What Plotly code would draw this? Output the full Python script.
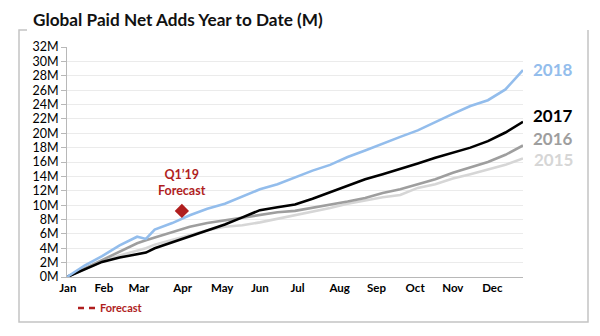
import plotly.graph_objects as go

# Week of year for each sampled point
weeks = [0, 2, 4, 6, 8, 9, 10, 12, 14, 16, 18, 20, 22, 24, 26, 28, 30, 32,
         34, 36, 38, 40, 42, 44, 46, 48, 50, 52]

# Cumulative paid net adds (millions)
adds_2018 = [0, 1.6, 2.9, 4.4, 5.6, 5.3, 6.6, 7.5, 8.6, 9.5, 10.2, 11.2, 12.2, 12.9,
             13.9, 14.8, 15.6, 16.7, 17.6, 18.6, 19.5, 20.4, 21.6, 22.7, 23.8, 24.6,
             26.1, 28.8]
adds_2017 = [0, 1.1, 2.1, 2.7, 3.2, 3.4, 4.0, 4.8, 5.6, 6.5, 7.3, 8.3, 9.3, 9.7,
             10.1, 10.9, 11.8, 12.7, 13.6, 14.3, 15.0, 15.8, 16.6, 17.3, 18.0, 18.9,
             20.1, 21.6]
adds_2016 = [0, 1.2, 2.4, 3.6, 4.7, 5.1, 5.5, 6.3, 7.0, 7.5, 7.9, 8.3, 8.7, 9.0,
             9.2, 9.6, 10.1, 10.5, 11.0, 11.7, 12.2, 12.9, 13.6, 14.5, 15.2, 16.0,
             17.0, 18.3]
adds_2015 = [0, 1.1, 2.2, 3.0, 3.7, 4.0, 4.5, 5.2, 5.9, 6.5, 7.0, 7.2, 7.6, 8.1,
             8.5, 9.1, 9.6, 10.2, 10.7, 11.1, 11.4, 12.4, 12.9, 13.7, 14.3, 14.9,
             15.6, 16.5]

# Q1'19 forecast point
forecast_week = [13.1]
forecast_value = [9.2]

months = ["Jan", "Feb", "Mar", "Apr", "May", "Jun", "Jul", "Aug", "Sep", "Oct", "Nov", "Dec"]
month_pos = [0.1, 4.2, 8.2, 13.2, 17.7, 22.0, 26.3, 31.1, 35.3, 39.7, 44.0, 48.5]

y_ticks = list(range(0, 33, 2))
y_labels = [f"{v}M" for v in y_ticks]

FONT = "Lato"
RED = "#b01e1e"

series = [
    ("2015", adds_2015, "#d6d6d6", 16.4),
    ("2016", adds_2016, "#9e9e9e", 19.3),
    ("2017", adds_2017, "#000000", 22.5),
    ("2018", adds_2018, "#93bdec", 28.9),
]

# plot area in pixels, used to place frame and title in paper units
L, R, T, B = 67, 523, 47, 277


def px_x(px):
    return (px - L) / (R - L)


def px_y(px):
    return (B - px) / (B - T)


fig = go.Figure()
for name, vals, color, _ in series:
    fig.add_trace(go.Scatter(
        x=weeks, y=vals, mode="lines", name=name, showlegend=False,
        line=dict(color=color, width=2.6), hoverinfo="skip",
    ))

fig.add_trace(go.Scatter(
    x=forecast_week, y=forecast_value, mode="markers", showlegend=False,
    marker=dict(symbol="diamond", size=11, color=RED), hoverinfo="skip",
))

# Legend entry for the forecast (dashed red)
fig.add_trace(go.Scatter(
    x=[None], y=[None], mode="lines", name="<b>Forecast</b>", showlegend=True,
    line=dict(color=RED, width=2.5, dash="0px,13px,6px,5px,6px,100px"),
))

annotations = []
for name, vals, color, label_y in series:
    annotations.append(dict(
        x=px_x(553), xref="paper", y=label_y, yref="y", text=f"<b>{name}</b>",
        showarrow=False, xanchor="center", yanchor="middle",
        font=dict(family=FONT, size=17, color=color),
    ))

annotations.append(dict(
    x=forecast_week[0], y=forecast_value[0], xref="x", yref="y",
    text="<b>Q1’19<br>Forecast</b>", showarrow=False,
    xanchor="center", yanchor="bottom", yshift=11,
    font=dict(family=FONT, size=12.5, color=RED),
))

# Chart title
annotations.append(dict(
    x=px_x(31), xref="paper", y=px_y(19), yref="paper",
    xanchor="left", yanchor="middle", showarrow=False,
    text="<b>Global Paid Net Adds Year to Date (M)</b>",
    font=dict(family=FONT, size=17.2, color="#111111"),
))

frame = dict(color="#c4c4c4", width=1.5)
fx0, fx1, fy0, fy1 = px_x(19), px_x(588), px_y(322), px_y(30)
shapes = [
    dict(type="path", xref="paper", yref="paper", layer="below", line=frame,
         path=f"M {px_x(27)},{fy1} L {fx0},{fy1} L {fx0},{fy0} L {fx1},{fy0} L {fx1},{fy1}"),
]

fig.update_layout(
    width=600, height=336,
    margin=dict(l=L, r=600 - R, t=T, b=336 - B),
    paper_bgcolor="white", plot_bgcolor="white",
    font=dict(family=FONT, color="#000000"),
    showlegend=True,
    legend=dict(
        x=px_x(60), xanchor="left", y=px_y(308), yanchor="middle",
        orientation="h", font=dict(family=FONT, size=11, color=RED),
        bgcolor="rgba(0,0,0,0)", itemwidth=30, tracegroupgap=0,
    ),
    annotations=annotations,
    shapes=shapes,
)

fig.update_xaxes(
    range=[0, 52], tickvals=month_pos, ticktext=[f"<b>{m}</b>" for m in months],
    showgrid=False, zeroline=False, showline=True, linecolor="#b8b8b8", linewidth=1,
    ticks="", tickfont=dict(family=FONT, size=11.5, color="#000000"),
)
fig.update_yaxes(
    range=[0, 32], tickvals=y_ticks, ticktext=y_labels,
    showgrid=True, gridcolor="#ebebeb", gridwidth=1, zeroline=False,
    showline=True, linecolor="#b8b8b8", linewidth=1,
    ticks="outside", ticklen=5, tickcolor="#b8b8b8",
    tickfont=dict(family=FONT, size=12.5, color="#000000"),
)

fig.write_html("out.html")
